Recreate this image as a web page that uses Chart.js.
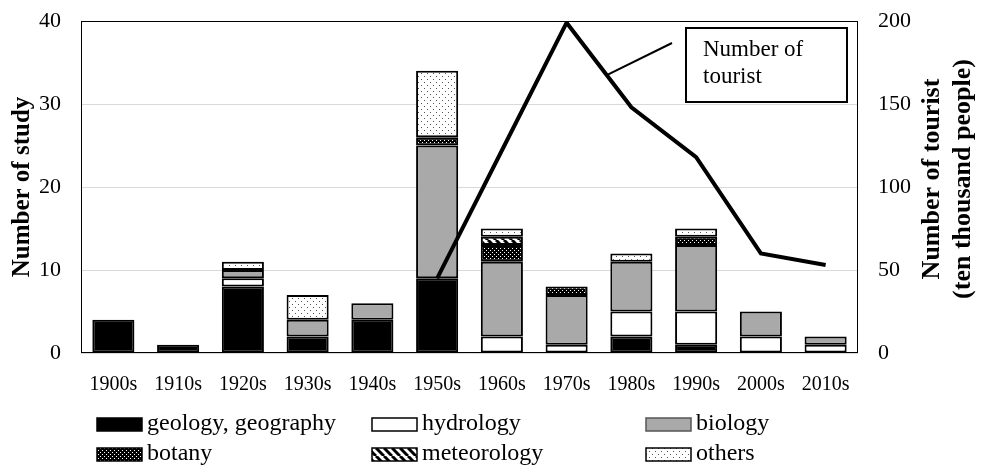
<!DOCTYPE html>
<html>
<head>
<meta charset="utf-8">
<script src="https://cdn.jsdelivr.net/npm/chart.js@4.4.1/dist/chart.umd.min.js"></script>
<style>
  html, body { margin: 0; padding: 0; background: #fff; }
</style>
</head>
<body>
<canvas id="chart" width="985" height="466"></canvas>
<script>
var decades = ['1900s', '1910s', '1920s', '1930s', '1940s', '1950s', '1960s', '1970s', '1980s', '1990s', '2000s', '2010s'];

// number of studies per field, by decade
var geology = [4, 1, 8, 2, 4, 9, 0, 0, 2, 1, 0, 0];
var hydrology = [0, 0, 1, 0, 0, 0, 2, 1, 3, 4, 2, 1];
var biology = [0, 0, 1, 2, 2, 16, 9, 6, 6, 8, 3, 1];
var botany = [0, 0, 0, 0, 0, 1, 2, 1, 0, 1, 0, 0];
var meteorology = [0, 0, 0, 0, 0, 0, 1, 0, 0, 0, 0, 0];
var others = [0, 0, 1, 3, 0, 8, 1, 0, 1, 1, 0, 0];

// tourists, ten thousand people
var tourists = [null, null, null, null, null, 45, 122, 199, 148, 118, 60, 53];

var studyTicks = [0, 10, 20, 30, 40];
var touristTicks = [0, 50, 100, 150, 200];

var serif = "'Liberation Serif', 'Times New Roman', serif";

function makePattern(size, draw) {
  var c = document.createElement('canvas');
  c.width = size; c.height = size;
  var g = c.getContext('2d');
  draw(g, size);
  return g.createPattern(c, 'repeat');
}

var botanyFill = makePattern(4, function (g, s) {
  g.fillStyle = '#000'; g.fillRect(0, 0, s, s);
  g.fillStyle = '#fff'; g.fillRect(0, 0, 1, 1); g.fillRect(2, 2, 1, 1);
});
var meteoFill = makePattern(8, function (g, s) {
  g.fillStyle = '#fff'; g.fillRect(0, 0, s, s);
  g.strokeStyle = '#000'; g.lineWidth = 3;
  for (var x = -8; x <= 8; x += 8) {
    g.beginPath(); g.moveTo(x, 0); g.lineTo(x + 8, 8); g.stroke();
  }
});
var othersFill = makePattern(6, function (g, s) {
  g.fillStyle = '#fff'; g.fillRect(0, 0, s, s);
  g.fillStyle = '#555'; g.fillRect(1, 1, 1, 1); g.fillRect(4, 4, 1, 1);
});

function nz(arr) { return arr.map(function (v) { return v === 0 ? null : v; }); }

function barSet(label, data, fill) {
  return {
    type: 'bar', label: label, data: nz(data), backgroundColor: fill,
    borderColor: '#000', borderWidth: 2, borderSkipped: false,
    yAxisID: 'y', order: 1, categoryPercentage: 0.65, barPercentage: 1
  };
}

var datasets = [
  barSet('geology, geography', geology, '#000'),
  barSet('hydrology', hydrology, '#fff'),
  barSet('biology', biology, '#a9a9a9'),
  barSet('botany', botany, botanyFill),
  barSet('meteorology', meteorology, meteoFill),
  barSet('others', others, othersFill),
  {
    type: 'line', label: 'Number of tourist', data: tourists, yAxisID: 'y2',
    borderColor: '#000', borderWidth: 4, pointRadius: 0, tension: 0, fill: false, order: 0
  }
];

// keep the tick labels from pushing the plot area in
function noPad(s) { s.paddingTop = 0; s.paddingBottom = 0; s.paddingLeft = 0; s.paddingRight = 0; }

var extras = {
  id: 'extras',
  afterDatasetsDraw: function (chart) {
    var ctx = chart.ctx, ca = chart.chartArea;
    ctx.save();
    // plot frame
    ctx.strokeStyle = '#000'; ctx.lineWidth = 1;
    ctx.strokeRect(ca.left + 0.5, ca.top + 0.5, ca.right - ca.left - 1, ca.bottom - ca.top - 1);

    // callout for tourist line
    var xs = chart.scales.x, y2 = chart.scales.y2;
    var ax = xs.getPixelForValue(7), bx = xs.getPixelForValue(8);
    var ay = y2.getPixelForValue(tourists[7]), by = y2.getPixelForValue(tourists[8]);
    var f = 0.62;
    var px = ax + f * (bx - ax), py = ay + f * (by - ay);
    var bxl = ca.right - 172, bxt = ca.top + 7, bw = 161, bh = 74;
    ctx.lineWidth = 2;
    ctx.beginPath(); ctx.moveTo(px, py); ctx.lineTo(bxl - 14, bxt + 15); ctx.stroke();
    ctx.fillStyle = '#fff';
    ctx.fillRect(bxl, bxt, bw, bh);
    ctx.strokeRect(bxl, bxt, bw, bh);
    ctx.fillStyle = '#000';
    ctx.font = '23px ' + serif;
    ctx.textBaseline = 'middle'; ctx.textAlign = 'left';
    ctx.fillText('Number of', bxl + 17, bxt + 22);
    ctx.fillText('tourist', bxl + 17, bxt + 49);

    // right axis title
    var cy = (ca.top + ca.bottom) / 2 - 8;
    ctx.font = 'bold 26px ' + serif;
    ctx.textAlign = 'center';
    ctx.translate(932, cy);
    ctx.rotate(-Math.PI / 2);
    ctx.fillText('Number of tourist', 0, 0);
    ctx.fillText('(ten thousand people)', 0, 31);
    ctx.restore();

    // legend
    ctx.save();
    var cols = [97, 372, 646], rows = [418, 448];
    ctx.font = '24px ' + serif;
    ctx.textBaseline = 'middle'; ctx.textAlign = 'left';
    for (var i = 0; i < 6; i++) {
      var ds = chart.data.datasets[i];
      var x = cols[i % 3], y = rows[Math.floor(i / 3)];
      ctx.fillStyle = ds.backgroundColor;
      ctx.fillRect(x, y, 45, 13);
      ctx.strokeStyle = i === 2 ? '#555' : '#000';
      ctx.lineWidth = 1.5;
      ctx.strokeRect(x, y, 45, 13);
      ctx.fillStyle = '#000';
      ctx.fillText(ds.label, x + 50, y + 6);
    }
    ctx.restore();
  }
};

new Chart(document.getElementById('chart'), {
  data: { labels: decades, datasets: datasets },
  plugins: [extras],
  options: {
    responsive: false,
    animation: false,
    layout: { padding: { top: 21, bottom: 73, left: 0, right: 0 } },
    plugins: { legend: { display: false }, tooltip: { enabled: false } },
    scales: {
      x: {
        stacked: true,
        grid: { display: false, drawTicks: false },
        border: { display: false },
        ticks: { color: '#000', font: { family: serif, size: 20 }, padding: 20, maxRotation: 0, autoSkip: false },
        afterFit: function (s) { s.height = 40; noPad(s); }
      },
      y: {
        stacked: true, position: 'left', min: 0, max: 40,
        afterBuildTicks: function (s) { s.ticks = studyTicks.map(function (v) { return { value: v }; }); },
        grid: { color: '#d9d9d9', drawTicks: false },
        border: { display: false },
        ticks: { color: '#000', font: { family: serif, size: 22 }, padding: 20 },
        title: { display: true, text: 'Number of study', color: '#000', font: { family: serif, size: 25, weight: 'bold' }, padding: { top: 8, bottom: 0 } },
        afterFit: function (s) { s.width = 81; noPad(s); }
      },
      y2: {
        position: 'right', min: 0, max: 200,
        afterBuildTicks: function (s) { s.ticks = touristTicks.map(function (v) { return { value: v }; }); },
        grid: { display: false, drawTicks: false },
        border: { display: false },
        ticks: { color: '#000', font: { family: serif, size: 22 }, padding: 20 },
        afterFit: function (s) { s.width = 127; noPad(s); }
      }
    }
  }
});
</script>
</body>
</html>
